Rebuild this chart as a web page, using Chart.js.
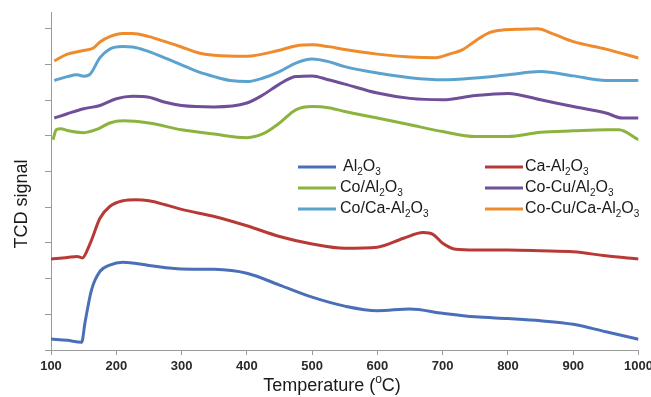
<!DOCTYPE html>
<html>
<head>
<meta charset="utf-8">
<script src="https://cdn.jsdelivr.net/npm/chart.js@4.4.1/dist/chart.umd.min.js"></script>
<style>
    html, body { margin: 0; padding: 0; background: #fff; overflow: hidden; }
    #wrap { width: 657px; height: 397px; position: relative; }
</style>
</head>
<body>
<div id="wrap"><canvas id="tcdChart"></canvas></div>
<script>
// Temperatures (°C) and TCD signal (a.u., 1 unit = 1 y tick)
const tAl2O3 = [100, 125, 147, 152, 162, 175, 190, 210, 250, 300, 350, 400, 450, 500, 550, 600, 650, 700, 750, 800, 850, 900, 950, 1000];
const sAl2O3 = [0.31, 0.27, 0.22, 0.76, 1.68, 2.20, 2.38, 2.46, 2.37, 2.27, 2.26, 2.15, 1.82, 1.48, 1.23, 1.10, 1.15, 1.03, 0.93, 0.88, 0.82, 0.72, 0.51, 0.30];

const tCaAl2O3 = [100, 125, 140, 148, 160, 175, 190, 210, 230, 250, 275, 300, 350, 400, 450, 500, 550, 600, 640, 670, 685, 700, 720, 750, 800, 850, 900, 950, 1000];
const sCaAl2O3 = [2.55, 2.59, 2.62, 2.58, 2.99, 3.69, 4.02, 4.18, 4.21, 4.18, 4.07, 3.94, 3.74, 3.48, 3.18, 2.97, 2.85, 2.88, 3.13, 3.29, 3.24, 2.99, 2.82, 2.80, 2.80, 2.78, 2.75, 2.64, 2.55];

const tCoAl2O3 = [103, 108, 115, 125, 150, 170, 190, 210, 250, 300, 350, 400, 425, 450, 475, 500, 525, 550, 600, 650, 700, 750, 800, 850, 900, 950, 970, 1000];
const sCoAl2O3 = [5.89, 6.17, 6.20, 6.15, 6.09, 6.18, 6.36, 6.42, 6.36, 6.17, 6.05, 5.95, 6.06, 6.36, 6.73, 6.82, 6.79, 6.68, 6.50, 6.31, 6.12, 5.98, 5.98, 6.10, 6.14, 6.17, 6.17, 5.89];

const tCoCuAl2O3 = [105, 125, 150, 175, 200, 225, 250, 275, 300, 350, 400, 425, 450, 475, 500, 525, 550, 600, 650, 700, 750, 800, 850, 900, 950, 975, 1000];
const sCoCuAl2O3 = [6.50, 6.62, 6.76, 6.85, 7.04, 7.11, 7.08, 6.94, 6.85, 6.81, 6.92, 7.15, 7.45, 7.66, 7.68, 7.57, 7.45, 7.20, 7.05, 7.01, 7.13, 7.19, 7.01, 6.82, 6.64, 6.50, 6.50];

const tCoCaAl2O3 = [105, 125, 140, 150, 160, 175, 190, 210, 225, 250, 275, 300, 325, 350, 375, 400, 425, 450, 475, 500, 525, 550, 600, 650, 700, 750, 800, 850, 900, 950, 1000];
const sCoCaAl2O3 = [7.55, 7.66, 7.71, 7.67, 7.73, 8.19, 8.43, 8.50, 8.49, 8.36, 8.18, 7.99, 7.80, 7.66, 7.55, 7.52, 7.62, 7.80, 8.04, 8.15, 8.08, 7.94, 7.76, 7.63, 7.57, 7.62, 7.71, 7.80, 7.68, 7.55, 7.55];

const tCoCuCaAl2O3 = [105, 125, 150, 165, 175, 190, 210, 225, 250, 275, 300, 325, 350, 400, 450, 475, 500, 525, 550, 600, 650, 690, 710, 730, 750, 770, 790, 820, 845, 870, 900, 950, 1000];
const sCoCuCaAl2O3 = [8.10, 8.29, 8.39, 8.46, 8.63, 8.78, 8.87, 8.87, 8.78, 8.64, 8.49, 8.33, 8.26, 8.23, 8.40, 8.52, 8.55, 8.50, 8.42, 8.29, 8.21, 8.19, 8.29, 8.41, 8.66, 8.88, 8.96, 8.99, 9.00, 8.85, 8.64, 8.43, 8.18];

const seriesLabels = ["Al2O3", "Ca-Al2O3", "Co/Al2O3", "Co-Cu/Al2O3", "Co/Ca-Al2O3", "Co-Cu/Ca-Al2O3"];
const seriesColors = ["#4A6FB8", "#B83A37", "#8DB33F", "#6F4F97", "#5BA3CE", "#EE8B2C"];
const xTicks = [100, 200, 300, 400, 500, 600, 700, 800, 900, 1000];

const FONT = "'Liberation Sans', Arial, sans-serif";

function pairs(ts, vs) {
    return ts.map((t, i) => ({ x: t, y: vs[i] }));
}

const allSeries = [
    pairs(tAl2O3, sAl2O3),
    pairs(tCaAl2O3, sCaAl2O3),
    pairs(tCoAl2O3, sCoAl2O3),
    pairs(tCoCuAl2O3, sCoCuAl2O3),
    pairs(tCoCaAl2O3, sCoCaAl2O3),
    pairs(tCoCuCaAl2O3, sCoCuCaAl2O3)
];

// text with every digit drawn as a subscript (Al2O3 -> Al₂O₃)
function drawFormula(ctx, text, x, y, size) {
    let cx = x;
    for (const ch of text) {
        const sub = /\d/.test(ch);
        ctx.font = (sub ? Math.round(size * 0.65) : size) + "px " + FONT;
        ctx.fillText(ch, cx, sub ? y + size * 0.33 : y);
        cx += ctx.measureText(ch).width;
    }
}

const decorPlugin = {
    id: "decor",
    afterDraw(chart) {
        const ctx = chart.ctx;
        ctx.save();
        ctx.fillStyle = "#1a1a1a";
        ctx.textBaseline = "middle";

        // y title
        ctx.save();
        ctx.translate(22, 204);
        ctx.rotate(-Math.PI / 2);
        ctx.textAlign = "center";
        ctx.font = "18px " + FONT;
        ctx.fillText("TCD signal", 0, 0);
        ctx.restore();

        // x title, with the small raised "o"
        ctx.textAlign = "left";
        const a = "Temperature (", b = "C)";
        ctx.font = "18px " + FONT;
        const wa = ctx.measureText(a).width, wb = ctx.measureText(b).width;
        ctx.font = "12px " + FONT;
        const wo = ctx.measureText("o").width;
        let x0 = 332 - (wa + wo + wb) / 2;
        ctx.font = "18px " + FONT;
        ctx.fillText(a, x0, 386);
        ctx.font = "12px " + FONT;
        ctx.fillText("o", x0 + wa, 380);
        ctx.font = "18px " + FONT;
        ctx.fillText(b, x0 + wa + wo, 386);

        // legend, two columns
        const cols = [{ lx: 298, tx: 340 }, { lx: 485, tx: 525 }];
        const rows = [167, 188, 209];
        chart.data.datasets.forEach((ds, i) => {
            const c = cols[i % 2], y = rows[Math.floor(i / 2)];
            ctx.strokeStyle = ds.borderColor;
            ctx.lineWidth = 3;
            ctx.beginPath();
            ctx.moveTo(c.lx, y);
            ctx.lineTo(c.lx + 38, y);
            ctx.stroke();
            ctx.fillStyle = "#1a1a1a";
            drawFormula(ctx, ds.label, c.tx + (i === 0 ? 3 : 0), y, 16);
        });
        ctx.restore();
    }
};

document.addEventListener("DOMContentLoaded", () => {

    const datasets = allSeries.map((pts, i) => ({
        label: seriesLabels[i],
        data: pts,
        borderColor: seriesColors[i],
        backgroundColor: seriesColors[i],
        borderWidth: 3,
        pointRadius: 0,
        cubicInterpolationMode: "monotone",
        fill: false
    }));

    new Chart(document.getElementById("tcdChart"), {
        type: "line",
        data: { datasets },
        plugins: [decorPlugin],
        options: {
            responsive: true,
            maintainAspectRatio: false,
            animation: false,
            layout: { padding: { top: 12, left: 0, right: 0, bottom: 0 } },
            plugins: {
                legend: { display: false },
                tooltip: { enabled: false }
            },
            scales: {
                x: {
                    type: "linear",
                    min: 100,
                    max: 1000,
                    afterBuildTicks: s => { s.ticks = xTicks.map(v => ({ value: v })); },
                    afterFit: s => { s.height = 47; },
                    grid: { drawOnChartArea: false, drawTicks: true, tickLength: 5, color: "#9a9a9a" },
                    border: { color: "#9a9a9a", width: 1 },
                    ticks: {
                        padding: 4,
                        color: "#2a2a2a",
                        font: { family: FONT, size: 13, weight: "bold" },
                        callback: v => String(v)
                    }
                },
                y: {
                    min: 0,
                    max: 9.47,
                    afterBuildTicks: s => { s.ticks = s.ticks.filter(t => Number.isInteger(t.value)); },
                    afterFit: s => { s.width = 51; },
                    grid: { drawOnChartArea: false, drawTicks: true, tickLength: 6, color: "#9a9a9a" },
                    border: { color: "#9a9a9a", width: 1 },
                    ticks: { display: false, stepSize: 1 }
                }
            }
        }
    });
});
</script>
</body>
</html>
